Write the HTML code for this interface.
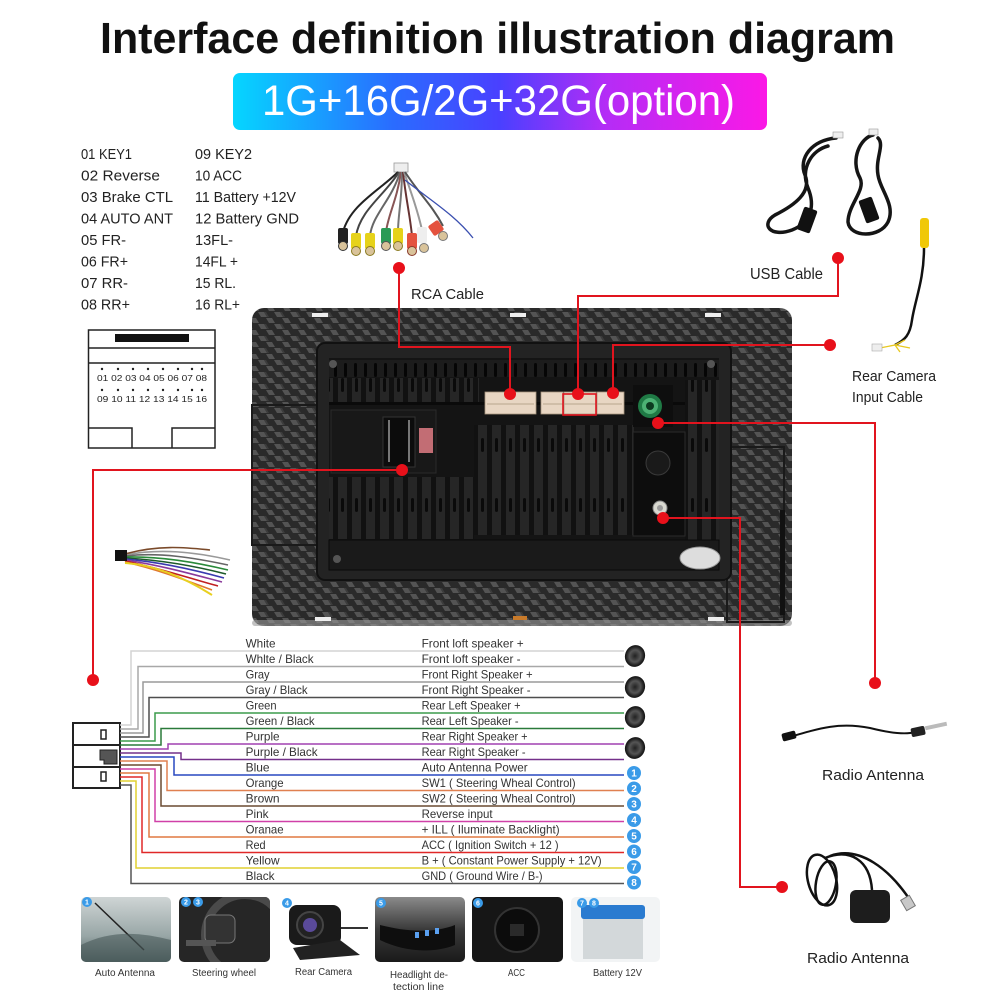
<!DOCTYPE html>
<html><head><meta charset="utf-8"><style>
html,body{margin:0;padding:0;background:#fff;}
svg{display:block;}
text{font-family:"Liberation Sans",sans-serif;}
</style></head><body>
<svg width="1000" height="1000" viewBox="0 0 1000 1000" xmlns="http://www.w3.org/2000/svg">
<defs>
<linearGradient id="ban" x1="0" y1="0" x2="1" y2="0">
<stop offset="0" stop-color="#05d6ff"/><stop offset="0.3" stop-color="#2a6cff"/><stop offset="0.5" stop-color="#4a40ff"/><stop offset="0.7" stop-color="#b52cf6"/><stop offset="1" stop-color="#fb18e6"/>
</linearGradient>
<pattern id="cb" width="16" height="12" patternUnits="userSpaceOnUse">
<rect width="16" height="12" fill="#2a2a2a"/>
<polygon points="2,0 8,0 11,5 5,5" fill="#545454"/>
<polygon points="10,6 16,6 19,11 13,11" fill="#545454"/>
<polygon points="-6,6 0,6 3,11 -3,11" fill="#545454"/>
<polygon points="8,0 11,5 13,5 10,0" fill="#3c3c3c"/>
</pattern>
<pattern id="rib" width="14" height="60" patternUnits="userSpaceOnUse">
<rect width="14" height="60" fill="#111"/>
<rect x="2" y="0" width="9" height="60" fill="#262626"/>
<rect x="5" y="18" width="3" height="14" rx="1.5" fill="#0a0a0a"/>
</pattern>
<pattern id="vent" width="10" height="20" patternUnits="userSpaceOnUse">
<rect width="10" height="20" fill="#1c1c1c"/>
<rect x="4" y="3" width="3" height="14" rx="1.5" fill="#050505"/>
</pattern>
<linearGradient id="t1" x1="0" y1="0" x2="0" y2="1"><stop offset="0" stop-color="#cfd5d5"/><stop offset="0.6" stop-color="#98a6a6"/><stop offset="1" stop-color="#4e6060"/></linearGradient>
<linearGradient id="t4" x1="0" y1="0" x2="0" y2="1"><stop offset="0" stop-color="#8a8a8a"/><stop offset="0.5" stop-color="#3a3a3a"/><stop offset="1" stop-color="#1a1a1a"/></linearGradient>
<radialGradient id="spk" cx="0.5" cy="0.5" r="0.5"><stop offset="0" stop-color="#222"/><stop offset="0.55" stop-color="#555"/><stop offset="0.8" stop-color="#2a2a2a"/><stop offset="1" stop-color="#111"/></radialGradient>
<clipPath id="c2"><rect x="179" y="897" width="91" height="65" rx="5"/></clipPath>
<clipPath id="c1"><rect x="81" y="897" width="90" height="65" rx="5"/></clipPath>
</defs>

<!-- Title -->
<text x="100" y="53" font-size="44" font-weight="bold" fill="#111" textLength="795" lengthAdjust="spacingAndGlyphs">Interface definition illustration diagram</text>
<rect x="233" y="73" width="534" height="57" rx="7" fill="url(#ban)"/>
<text x="262" y="115" font-size="43" fill="#fff" textLength="473" lengthAdjust="spacingAndGlyphs">1G+16G/2G+32G(option)</text>

<!-- Pin list -->
<g font-size="15" fill="#222">
<text x="81" y="159" textLength="51" lengthAdjust="spacingAndGlyphs">01 KEY1</text>
<text x="81" y="180.5" textLength="79" lengthAdjust="spacingAndGlyphs">02 Reverse</text>
<text x="81" y="202" textLength="92" lengthAdjust="spacingAndGlyphs">03 Brake CTL</text>
<text x="81" y="223.5" textLength="92" lengthAdjust="spacingAndGlyphs">04 AUTO ANT</text>
<text x="81" y="245" textLength="45" lengthAdjust="spacingAndGlyphs">05 FR-</text>
<text x="81" y="266.5" textLength="47" lengthAdjust="spacingAndGlyphs">06 FR+</text>
<text x="81" y="288" textLength="47" lengthAdjust="spacingAndGlyphs">07 RR-</text>
<text x="81" y="309.5" textLength="49" lengthAdjust="spacingAndGlyphs">08 RR+</text>
<text x="195" y="159" textLength="57" lengthAdjust="spacingAndGlyphs">09 KEY2</text>
<text x="195" y="180.5" textLength="47" lengthAdjust="spacingAndGlyphs">10 ACC</text>
<text x="195" y="202" textLength="101" lengthAdjust="spacingAndGlyphs">11 Battery +12V</text>
<text x="195" y="223.5" textLength="104" lengthAdjust="spacingAndGlyphs">12 Battery GND</text>
<text x="195" y="245" textLength="38" lengthAdjust="spacingAndGlyphs">13FL-</text>
<text x="195" y="266.5" textLength="43" lengthAdjust="spacingAndGlyphs">14FL +</text>
<text x="195" y="288" textLength="41" lengthAdjust="spacingAndGlyphs">15 RL.</text>
<text x="195" y="309.5" textLength="45" lengthAdjust="spacingAndGlyphs">16 RL+</text>
</g>

<!-- connector diagram -->
<g stroke="#222" stroke-width="1.5" fill="none">
<rect x="88.5" y="330" width="126.5" height="118"/>
<line x1="88.5" y1="348" x2="215" y2="348"/>
<line x1="88.5" y1="363" x2="215" y2="363"/>
<polyline points="88.5,428 132,428 132,448"/>
<polyline points="215,428 172,428 172,448"/>
</g>
<rect x="115" y="334" width="74" height="8" fill="#111"/>
<g fill="#222">
<circle cx="102" cy="369" r="1.2"/><circle cx="118" cy="369" r="1.2"/><circle cx="133" cy="369" r="1.2"/><circle cx="148" cy="369" r="1.2"/><circle cx="163" cy="369" r="1.2"/><circle cx="178" cy="369" r="1.2"/><circle cx="192" cy="369" r="1.2"/><circle cx="202" cy="369" r="1.2"/>
<circle cx="102" cy="390" r="1.2"/><circle cx="118" cy="390" r="1.2"/><circle cx="133" cy="390" r="1.2"/><circle cx="148" cy="390" r="1.2"/><circle cx="163" cy="390" r="1.2"/><circle cx="178" cy="390" r="1.2"/><circle cx="192" cy="390" r="1.2"/><circle cx="202" cy="390" r="1.2"/>
</g>
<text x="97" y="381" font-size="8" fill="#222" textLength="110" lengthAdjust="spacingAndGlyphs">01 02 03 04 05 06 07 08</text>
<text x="97" y="402" font-size="8" fill="#222" textLength="110" lengthAdjust="spacingAndGlyphs">09 10 11 12 13 14 15 16</text>

<!-- RCA cable image -->
<g>
<rect x="394" y="163" width="14" height="9" fill="#eee" stroke="#999" stroke-width="0.8"/>
<g fill="none" stroke-width="2">
<path d="M398,172 C380,190 350,205 343,232" stroke="#222"/>
<path d="M399,172 C385,195 360,210 356,236" stroke="#444"/>
<path d="M400,172 C392,200 372,215 370,236" stroke="#666"/>
<path d="M401,172 C397,200 388,215 386,232" stroke="#855"/>
<path d="M402,172 C402,200 398,215 398,232" stroke="#777"/>
<path d="M403,172 C406,200 410,215 412,236" stroke="#633"/>
<path d="M404,172 C412,195 418,212 422,230" stroke="#999"/>
<path d="M405,172 C420,195 432,205 443,226" stroke="#555"/>
<path d="M405,180 C430,200 455,215 473,238" stroke="#3a4fb0" stroke-width="1.3"/>
</g>
<rect x="338" y="228" width="10" height="16" rx="2" fill="#222"/><circle cx="343" cy="246" r="4.5" fill="#d9c39a" stroke="#333"/>
<rect x="351" y="233" width="10" height="16" rx="2" fill="#e6d21a"/><circle cx="356" cy="251" r="4.5" fill="#d9c39a" stroke="#8a7a20"/>
<rect x="365" y="233" width="10" height="16" rx="2" fill="#e6d21a"/><circle cx="370" cy="251" r="4.5" fill="#d9c39a" stroke="#8a7a20"/>
<rect x="381" y="228" width="10" height="16" rx="2" fill="#2a9a55"/><circle cx="386" cy="246" r="4.5" fill="#d9c39a" stroke="#555"/>
<rect x="393" y="228" width="10" height="16" rx="2" fill="#e6d21a"/><circle cx="398" cy="246" r="4.5" fill="#d9c39a" stroke="#8a7a20"/>
<rect x="407" y="233" width="10" height="16" rx="2" fill="#e4523e"/><circle cx="412" cy="251" r="4.5" fill="#d9c39a" stroke="#8a3a2a"/>
<rect x="417" y="227" width="10" height="16" rx="2" fill="#eee"/><circle cx="424" cy="248" r="4.5" fill="#d9c39a" stroke="#777"/>
<rect x="430" y="222" width="12" height="12" rx="2" fill="#e4523e" transform="rotate(-35 436 228)"/><circle cx="443" cy="236" r="4.5" fill="#d9c39a" stroke="#777"/>
</g>

<!-- USB cables -->
<g fill="none" stroke="#151515" stroke-width="3.5" stroke-linecap="round">
<path d="M836,138 C812,140 798,158 805,175 C812,192 795,205 775,215 C760,224 770,238 792,230 C812,222 815,205 808,188 C800,168 812,150 828,146"/>
<path d="M873,135 C860,138 850,160 860,178 C866,190 848,205 848,222 C850,238 880,238 888,222 C896,205 880,190 878,175 C875,158 885,145 878,138"/>
</g>
<rect x="833" y="132" width="10" height="6" fill="#eee" stroke="#999" stroke-width="0.6"/>
<rect x="869" y="129" width="9" height="6" fill="#eee" stroke="#999" stroke-width="0.6"/>
<rect x="800" y="208" width="14" height="24" rx="2" fill="#111" transform="rotate(20 807 220)"/>
<rect x="862" y="198" width="14" height="24" rx="2" fill="#111" transform="rotate(-20 869 210)"/>
<text x="750" y="279" font-size="16" fill="#222" textLength="73" lengthAdjust="spacingAndGlyphs">USB Cable</text>

<!-- Rear camera cable -->
<rect x="920" y="218" width="9" height="30" rx="3" fill="#f0c808"/>
<path d="M924,248 C924,280 915,300 912,320 C910,335 905,340 895,345" fill="none" stroke="#111" stroke-width="2.5"/>
<path d="M895,345 L880,348 M895,345 L905,340 M895,345 L910,348 M895,345 L900,352" stroke="#e8c820" stroke-width="1.3"/>
<rect x="872" y="344" width="10" height="7" fill="#eee" stroke="#aaa" stroke-width="0.6"/>
<text x="852" y="381" font-size="15" fill="#222" textLength="84" lengthAdjust="spacingAndGlyphs">Rear Camera</text>
<text x="852" y="402" font-size="15" fill="#222" textLength="71" lengthAdjust="spacingAndGlyphs">Input Cable</text>
<text x="411" y="299" font-size="15" fill="#222" textLength="73" lengthAdjust="spacingAndGlyphs">RCA Cable</text>

<!-- Head unit panel -->
<rect x="252" y="308" width="540" height="318" rx="12" fill="url(#cb)"/>
<rect x="252" y="620" width="540" height="6" rx="3" fill="#9a9a9a" opacity="0.6"/>
<rect x="312" y="313" width="16" height="4" fill="#eee"/>
<rect x="510" y="313" width="16" height="4" fill="#eee"/>
<rect x="705" y="313" width="16" height="4" fill="#eee"/>
<rect x="315" y="617" width="16" height="4" fill="#eee"/>
<rect x="708" y="617" width="16" height="4" fill="#eee"/>
<rect x="513" y="616" width="14" height="4" fill="#c87a2a"/>
<rect x="727" y="447" width="57" height="175" fill="none" stroke="#1a1a1a" stroke-width="2"/>
<rect x="780" y="510" width="5" height="105" fill="#111"/>
<rect x="252" y="405" width="66" height="140" fill="none" stroke="#1a1a1a" stroke-width="2"/>

<!-- inner recess -->
<rect x="317" y="343" width="414" height="237" rx="8" fill="#232323" stroke="#111" stroke-width="2"/>
<rect x="329" y="358" width="390" height="212" fill="#141414"/>
<rect x="329" y="360" width="390" height="17" fill="url(#vent)"/>
<rect x="329" y="378" width="150" height="24" fill="url(#rib)"/>
<rect x="329" y="402" width="390" height="3" fill="#0a0a0a"/>
<rect x="474" y="425" width="160" height="110" fill="url(#rib)"/>
<rect x="329" y="477" width="145" height="62" fill="url(#rib)"/>
<rect x="685" y="380" width="34" height="160" fill="url(#rib)"/>
<rect x="329" y="540" width="390" height="30" fill="#1a1a1a" stroke="#0a0a0a" stroke-width="1"/>
<circle cx="333" cy="364" r="4" fill="#555"/>
<circle cx="337" cy="559" r="4" fill="#555"/>
<circle cx="711" cy="364" r="4" fill="#555"/>
<!-- left module -->
<rect x="331" y="410" width="105" height="63" fill="#181818" stroke="#2a2a2a"/>
<rect x="383" y="417" width="32" height="50" fill="#0c0c0c" stroke="#333"/>
<g fill="#777"><rect x="388" y="420" width="2" height="42"/><rect x="408" y="420" width="2" height="42"/></g>
<rect x="419" y="428" width="14" height="25" fill="#c26d74"/>
<!-- connectors -->
<g fill="#e8d6c3" stroke="#a8957f" stroke-width="0.8">
<rect x="485" y="392" width="51" height="22"/>
<rect x="541" y="392" width="22" height="22"/>
<rect x="564" y="392" width="32" height="22"/>
<rect x="597" y="392" width="27" height="22"/>
</g>
<g stroke="#b9a58e" stroke-width="1"><line x1="487" y1="404" x2="534" y2="404"/><line x1="543" y1="404" x2="622" y2="404"/></g>
<!-- green -->
<rect x="633" y="385" width="40" height="42" fill="#0e0e0e"/>
<circle cx="650" cy="406" r="12" fill="#1f7a45"/>
<circle cx="650" cy="406" r="8" fill="#4cb174"/>
<circle cx="650" cy="406" r="4" fill="#0c3a20"/>
<!-- right module -->
<rect x="633" y="432" width="52" height="104" fill="#0d0d0d" stroke="#2a2a2a"/>
<circle cx="658" cy="463" r="12" fill="#1a1a1a" stroke="#3a3a3a"/>
<circle cx="660" cy="508" r="7" fill="#d8d8d0" stroke="#888"/>
<circle cx="660" cy="508" r="3" fill="#999"/>
<ellipse cx="700" cy="558" rx="20" ry="11" fill="#ddd" stroke="#999"/>

<!-- red connector lines -->
<g fill="none" stroke="#e1141e" stroke-width="2">
<polyline points="399,268 399,347 510,347 510,394"/>
<polyline points="838,258 838,296 578,296 578,394"/>
<polyline points="830,345 613,345 613,393"/>
<rect x="563" y="394" width="33" height="21" stroke-width="1.6"/>
<polyline points="658,423 875,423 875,683"/>
<polyline points="663,518 740,518 740,887 782,887"/>
<polyline points="402,470 93,470 93,680"/>
</g>
<g fill="#e8101a">
<circle cx="399" cy="268" r="6"/><circle cx="510" cy="394" r="6"/>
<circle cx="838" cy="258" r="6"/><circle cx="578" cy="394" r="6"/>
<circle cx="830" cy="345" r="6"/><circle cx="613" cy="393" r="6"/>
<circle cx="658" cy="423" r="6"/><circle cx="875" cy="683" r="6"/>
<circle cx="663" cy="518" r="6"/><circle cx="782" cy="887" r="6"/>
<circle cx="402" cy="470" r="6"/><circle cx="93" cy="680" r="6"/>
</g>

<!-- harness image -->
<g fill="none" stroke-width="1.6">
<path d="M125,555 C160,548 195,552 230,560" stroke="#999"/>
<path d="M125,556 C160,552 195,558 228,565" stroke="#666"/>
<path d="M125,557 C160,556 195,562 228,570" stroke="#2a8a3a"/>
<path d="M125,558 C160,560 195,566 226,574" stroke="#1d5a2a"/>
<path d="M125,559 C160,562 195,570 224,578" stroke="#3a3ab0"/>
<path d="M125,560 C160,565 195,575 222,582" stroke="#8a3a9a"/>
<path d="M125,561 C160,568 195,580 218,586" stroke="#c02020"/>
<path d="M125,562 C160,570 190,582 212,590" stroke="#e07830"/>
<path d="M125,563 C155,565 185,578 212,595" stroke="#e8d020" stroke-width="2"/>
<path d="M125,554 C160,544 190,548 210,550" stroke="#7a4a2a"/>
</g>
<rect x="115" y="550" width="12" height="11" fill="#111"/>

<!-- wiring connector -->
<rect x="73" y="723" width="47" height="65" fill="#fff" stroke="#222" stroke-width="2"/>
<line x1="73" y1="745" x2="120" y2="745" stroke="#222" stroke-width="2"/>
<line x1="73" y1="767" x2="120" y2="767" stroke="#222" stroke-width="2"/>
<rect x="101" y="730" width="5" height="9" fill="#fff" stroke="#222" stroke-width="1.5"/>
<rect x="101" y="772" width="5" height="9" fill="#fff" stroke="#222" stroke-width="1.5"/>
<path d="M100,750 H117 V764 H104 V760 H100 Z" fill="#555" stroke="#222"/>

<!-- wires -->
<g fill="none" stroke-width="1.5">
<path d="M120,725 H131 V651 H624" stroke="#d4d4d4"/>
<path d="M120,729 H138 V666.5 H624" stroke="#a8a8a8"/>
<path d="M120,733 H143 V682 H624" stroke="#9a9a9a"/>
<path d="M120,737 H149 V697.5 H624" stroke="#4e4e4e"/>
<path d="M120,741 H155 V713 H624" stroke="#3b9b4b"/>
<path d="M120,745 H161 V728.5 H624" stroke="#2a7a3a"/>
<path d="M120,749 H168 V744 H624" stroke="#a040b0"/>
<path d="M120,753 H181 V759.5 H624" stroke="#74308a"/>
<path d="M120,757 H174 V775 H624" stroke="#2848c0"/>
<path d="M120,761 H167 V790.5 H624" stroke="#e08050"/>
<path d="M120,765 H161 V806 H624" stroke="#6a4a30"/>
<path d="M120,769 H155 V821.5 H624" stroke="#d040a8"/>
<path d="M120,773 H149 V837 H624" stroke="#e07840"/>
<path d="M120,777 H142 V852.5 H624" stroke="#e02828"/>
<path d="M120,781 H136 V868 H624" stroke="#e0d030"/>
<path d="M120,785 H131 V883.5 H624" stroke="#555"/>
</g>

<g font-size="12" fill="#333">
<text x="245.6" y="647.3" textLength="30" lengthAdjust="spacingAndGlyphs">White</text>
<text x="245.6" y="662.8" textLength="68" lengthAdjust="spacingAndGlyphs">Whlte / Black</text>
<text x="245.6" y="678.3" textLength="24" lengthAdjust="spacingAndGlyphs">Gray</text>
<text x="245.6" y="693.8" textLength="62" lengthAdjust="spacingAndGlyphs">Gray / Black</text>
<text x="245.6" y="709.3" textLength="31" lengthAdjust="spacingAndGlyphs">Green</text>
<text x="245.6" y="724.8" textLength="69" lengthAdjust="spacingAndGlyphs">Green / Black</text>
<text x="245.6" y="740.3" textLength="34" lengthAdjust="spacingAndGlyphs">Purple</text>
<text x="245.6" y="755.8" textLength="72" lengthAdjust="spacingAndGlyphs">Purple / Black</text>
<text x="245.6" y="771.3" textLength="24" lengthAdjust="spacingAndGlyphs">Blue</text>
<text x="245.6" y="786.8" textLength="38" lengthAdjust="spacingAndGlyphs">Orange</text>
<text x="245.6" y="802.3" textLength="34" lengthAdjust="spacingAndGlyphs">Brown</text>
<text x="245.6" y="817.8" textLength="23" lengthAdjust="spacingAndGlyphs">Pink</text>
<text x="245.6" y="833.3" textLength="38" lengthAdjust="spacingAndGlyphs">Oranae</text>
<text x="245.6" y="848.8" textLength="20" lengthAdjust="spacingAndGlyphs">Red</text>
<text x="245.6" y="864.3" textLength="34" lengthAdjust="spacingAndGlyphs">Yellow</text>
<text x="245.6" y="879.8" textLength="29" lengthAdjust="spacingAndGlyphs">Black</text>

<text x="421.6" y="647.3" textLength="102" lengthAdjust="spacingAndGlyphs">Front loft speaker  +</text>
<text x="421.6" y="662.8" textLength="99" lengthAdjust="spacingAndGlyphs">Front loft speaker  -</text>
<text x="421.6" y="678.3" textLength="111" lengthAdjust="spacingAndGlyphs">Front Right Speaker +</text>
<text x="421.6" y="693.8" textLength="109" lengthAdjust="spacingAndGlyphs">Front Right Speaker -</text>
<text x="421.6" y="709.3" textLength="99" lengthAdjust="spacingAndGlyphs">Rear Left Speaker +</text>
<text x="421.6" y="724.8" textLength="97" lengthAdjust="spacingAndGlyphs">Rear Left Speaker -</text>
<text x="421.6" y="740.3" textLength="106" lengthAdjust="spacingAndGlyphs">Rear Right Speaker +</text>
<text x="421.6" y="755.8" textLength="104" lengthAdjust="spacingAndGlyphs">Rear Right Speaker -</text>
<text x="421.6" y="771.3" textLength="106" lengthAdjust="spacingAndGlyphs">Auto Antenna Power</text>
<text x="421.6" y="786.8" textLength="154" lengthAdjust="spacingAndGlyphs">SW1 ( Steering Wheal Control)</text>
<text x="421.6" y="802.3" textLength="154" lengthAdjust="spacingAndGlyphs">SW2 ( Steering Wheal Control)</text>
<text x="421.6" y="817.8" textLength="71" lengthAdjust="spacingAndGlyphs">Reverse input</text>
<text x="421.6" y="833.3" textLength="138" lengthAdjust="spacingAndGlyphs">+ ILL ( Iluminate Backlight)</text>
<text x="421.6" y="848.8" textLength="137" lengthAdjust="spacingAndGlyphs">ACC ( Ignition Switch + 12 )</text>
<text x="421.6" y="864.3" textLength="180" lengthAdjust="spacingAndGlyphs">B + ( Constant Power Supply + 12V)</text>
<text x="421.6" y="879.8" textLength="121" lengthAdjust="spacingAndGlyphs">GND ( Ground Wire / B-)</text>
</g>

<!-- speakers -->
<g>
<ellipse cx="635" cy="656" rx="10" ry="11" fill="url(#spk)" transform="rotate(20 635 656)"/>
<ellipse cx="635" cy="687" rx="10" ry="11" fill="url(#spk)" transform="rotate(20 635 687)"/>
<ellipse cx="635" cy="717" rx="10" ry="11" fill="url(#spk)" transform="rotate(20 635 717)"/>
<ellipse cx="635" cy="748" rx="10" ry="11" fill="url(#spk)" transform="rotate(20 635 748)"/>
</g>
<g fill="#3a9be8">
<circle cx="634" cy="773" r="7"/><circle cx="634" cy="788.5" r="7"/><circle cx="634" cy="804" r="7"/><circle cx="634" cy="820" r="7"/>
<circle cx="634" cy="836" r="7"/><circle cx="634" cy="851.5" r="7"/><circle cx="634" cy="867" r="7"/><circle cx="634" cy="882.5" r="7"/>
</g>
<g font-size="10" fill="#fff" font-weight="bold" text-anchor="middle">
<text x="634" y="776.5">1</text><text x="634" y="792">2</text><text x="634" y="807.5">3</text><text x="634" y="823.5">4</text>
<text x="634" y="839.5">5</text><text x="634" y="855">6</text><text x="634" y="870.5">7</text><text x="634" y="886">8</text>
</g>

<!-- radio antennas -->
<path d="M790,737 C820,728 840,722 870,728 C890,733 905,735 915,732" fill="none" stroke="#111" stroke-width="2"/>
<rect x="782" y="732" width="14" height="8" rx="2" fill="#111" transform="rotate(-15 789 736)"/>
<rect x="911" y="727" width="14" height="9" rx="2" fill="#222" transform="rotate(-12 918 731)"/>
<rect x="925" y="724" width="22" height="4" fill="#bbb" transform="rotate(-12 936 726)"/>
<text x="822" y="780" font-size="15" fill="#222" textLength="102" lengthAdjust="spacingAndGlyphs">Radio Antenna</text>

<g fill="none" stroke="#111" stroke-width="2.5">
<ellipse cx="822" cy="880" rx="14" ry="26" transform="rotate(-15 822 880)"/>
<ellipse cx="826" cy="883" rx="10" ry="22" transform="rotate(10 826 883)"/>
<path d="M825,858 C850,848 870,860 872,890"/>
<path d="M830,856 C860,845 890,870 910,900"/>
</g>
<rect x="850" y="890" width="40" height="33" rx="6" fill="#1d1d1d"/>
<rect x="903" y="897" width="10" height="12" fill="#c8c8c8" stroke="#777" transform="rotate(-30 908 903)"/>
<text x="807" y="963" font-size="15" fill="#222" textLength="102" lengthAdjust="spacingAndGlyphs">Radio Antenna</text>

<!-- bottom tiles -->
<rect x="81" y="897" width="90" height="65" rx="5" fill="url(#t1)"/>
<g clip-path="url(#c1)">
<path d="M95,903 L144,950" stroke="#222" stroke-width="1.5"/>
<path d="M81,945 C110,930 140,932 171,940 L171,962 L81,962 Z" fill="#4a5a5a" opacity="0.6"/>
</g>
<rect x="179" y="897" width="91" height="65" rx="5" fill="#262626"/>
<g clip-path="url(#c2)">
<circle cx="245" cy="935" r="40" fill="none" stroke="#4a4a4a" stroke-width="8"/>
<rect x="205" y="915" width="30" height="28" rx="6" fill="#333" stroke="#777"/>
<rect x="186" y="940" width="30" height="6" fill="#555"/>
</g>
<rect x="289" y="905" width="52" height="40" rx="8" fill="#1a1a1a"/>
<circle cx="310" cy="925" r="13" fill="#222" stroke="#444" stroke-width="2"/>
<circle cx="310" cy="925" r="7" fill="#5a4a9a"/>
<path d="M293,948 L340,940 L360,955 L300,960 Z" fill="#222"/>
<line x1="341" y1="928" x2="368" y2="928" stroke="#333" stroke-width="2"/>
<rect x="375" y="897" width="90" height="65" rx="5" fill="url(#t4)"/>
<path d="M380,925 C400,930 430,935 455,925 L455,945 C430,955 400,950 380,940 Z" fill="#0e0e0e"/>
<g fill="#5aa0f0"><rect x="415" y="932" width="4" height="6"/><rect x="425" y="930" width="4" height="6"/><rect x="435" y="928" width="4" height="6"/></g>
<rect x="472" y="897" width="91" height="65" rx="5" fill="#161616"/>
<circle cx="517" cy="930" r="22" fill="#0c0c0c" stroke="#333" stroke-width="2"/>
<rect x="510" y="924" width="14" height="12" fill="#2a2a2a"/>
<rect x="571" y="897" width="89" height="65" rx="5" fill="#f2f4f5"/>
<rect x="583" y="915" width="60" height="44" fill="#d3d8da"/>
<rect x="581" y="905" width="64" height="14" rx="3" fill="#2a7bd0"/>
<g fill="#3a9be8">
<circle cx="87" cy="902" r="5"/><circle cx="186" cy="902" r="5"/><circle cx="198" cy="902" r="5"/><circle cx="287" cy="903" r="5"/>
<circle cx="381" cy="903" r="5"/><circle cx="478" cy="903" r="5"/><circle cx="582" cy="903" r="5"/><circle cx="594" cy="903" r="5"/>
</g>
<g font-size="7" fill="#fff" text-anchor="middle" font-weight="bold">
<text x="87" y="904.5">1</text><text x="186" y="904.5">2</text><text x="198" y="904.5">3</text><text x="287" y="905.5">4</text>
<text x="381" y="905.5">5</text><text x="478" y="905.5">6</text><text x="582" y="905.5">7</text><text x="594" y="905.5">8</text>
</g>
<g font-size="10" fill="#333">
<text x="95" y="976" textLength="60" lengthAdjust="spacingAndGlyphs">Auto Antenna</text>
<text x="192" y="976" textLength="64" lengthAdjust="spacingAndGlyphs">Steering wheel</text>
<text x="295" y="975" textLength="57" lengthAdjust="spacingAndGlyphs">Rear Camera</text>
<text x="390" y="978" textLength="58" lengthAdjust="spacingAndGlyphs">Headlight de-</text>
<text x="393" y="990" textLength="51" lengthAdjust="spacingAndGlyphs">tection line</text>
<text x="508" y="976" textLength="17" lengthAdjust="spacingAndGlyphs">ACC</text>
<text x="593" y="976" textLength="49" lengthAdjust="spacingAndGlyphs">Battery 12V</text>
</g>
</svg>
</body></html>
